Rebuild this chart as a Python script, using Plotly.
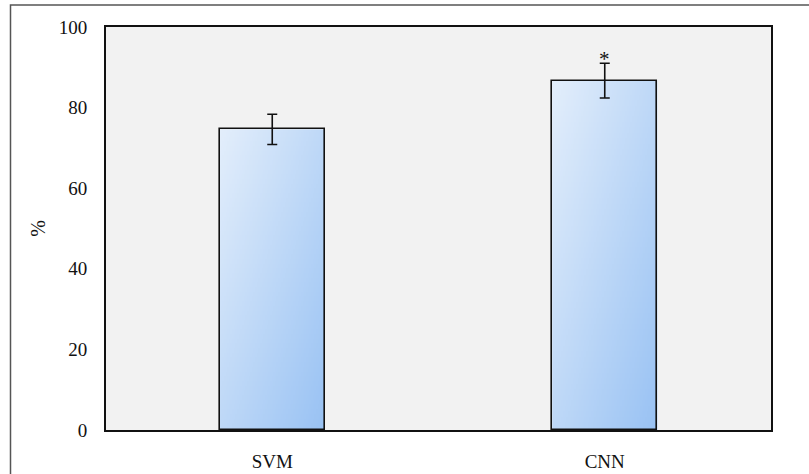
import base64
import struct
import zlib

import plotly.graph_objects as go

# Classification accuracy (%) with standard deviation
models = ["SVM", "CNN"]
accuracy = [74.6, 86.7]
std_dev = [3.75, 4.3]
significance = ["", "*"]
y_ticks = [0, 20, 40, 60, 80, 100]

BAR_WIDTH = 0.316
FONT = "Liberation Serif, Times New Roman, serif"


def gradient_png(size=64, start=(227, 238, 251), end=(153, 194, 243)):
    """Diagonal (top-left -> bottom-right) gradient as a PNG data URI."""
    rows = []
    for j in range(size):
        row = bytearray([0])
        for i in range(size):
            t = (i + j) / (2 * (size - 1))
            row.extend(int(round(s + (e - s) * t)) for s, e in zip(start, end))
        rows.append(bytes(row))
    raw = b"".join(rows)

    def chunk(tag, data):
        c = tag + data
        return struct.pack(">I", len(data)) + c + struct.pack(">I", zlib.crc32(c) & 0xFFFFFFFF)

    png = b"\x89PNG\r\n\x1a\n"
    png += chunk(b"IHDR", struct.pack(">IIBBBBB", size, size, 8, 2, 0, 0, 0))
    png += chunk(b"IDAT", zlib.compress(raw, 9))
    png += chunk(b"IEND", b"")
    return "data:image/png;base64," + base64.b64encode(png).decode()


grad = gradient_png()

fig = go.Figure()

# Outlined bars (fill supplied by gradient images underneath)
fig.add_trace(go.Bar(
    x=models,
    y=accuracy,
    width=BAR_WIDTH,
    marker=dict(color="rgba(0,0,0,0)", line=dict(color="#111111", width=1.6)),
    error_y=dict(type="data", array=std_dev, visible=True,
                 color="#111111", thickness=1.6, width=5),
    hoverinfo="skip",
    showlegend=False,
))

images = []
for i, val in enumerate(accuracy):
    images.append(dict(
        source=grad, xref="x", yref="y",
        x=i - BAR_WIDTH / 2, y=val,
        sizex=BAR_WIDTH, sizey=val,
        xanchor="left", yanchor="top",
        sizing="stretch", layer="below",
    ))

# Significance markers just above the error bars
annotations = []
for m, a, s, mark in zip(models, accuracy, std_dev, significance):
    if mark:
        annotations.append(dict(
            x=m, y=a + s, xref="x", yref="y", text=mark, showarrow=False,
            xanchor="center", yanchor="bottom", yshift=-10,
            font=dict(family=FONT, size=21, color="#111111"),
        ))

W, H = 809, 474
L, R, T, B = 106, 38, 27, 44
pw, ph = W - L - R, H - T - B


def px_x(p):
    return (p - L) / pw


def px_y(p):
    return (H - B - p) / ph


fig.update_layout(
    width=W, height=H,
    margin=dict(l=L, r=R, t=T, b=B),
    paper_bgcolor="white",
    plot_bgcolor="#f2f2f2",
    font=dict(family=FONT, size=18, color="#111111"),
    images=images,
    annotations=annotations,
    bargap=0,
    shapes=[
        # outer frame around the whole figure
        dict(type="rect", xref="paper", yref="paper",
             x0=px_x(10.5), x1=px_x(812), y0=px_y(480), y1=px_y(5),
             line=dict(color="#555555", width=1.5), layer="below"),
    ],
    xaxis=dict(
        type="category",
        range=[-0.5, 1.5],
        automargin=False,
        showline=True, linecolor="#111111", linewidth=2, mirror=True,
        showgrid=False, zeroline=False,
        ticks="", ticklabelstandoff=13,
        tickfont=dict(family=FONT, size=19),
    ),
    yaxis=dict(
        range=[0, 100],
        tickvals=y_ticks,
        automargin=False,
        showline=True, linecolor="#111111", linewidth=2, mirror=True,
        showgrid=False, zeroline=False,
        ticks="", ticklabelstandoff=13,
        tickfont=dict(family=FONT, size=19),
        title=dict(text="%", font=dict(family=FONT, size=20), standoff=8),
    ),
)

fig.write_html("out.html")
